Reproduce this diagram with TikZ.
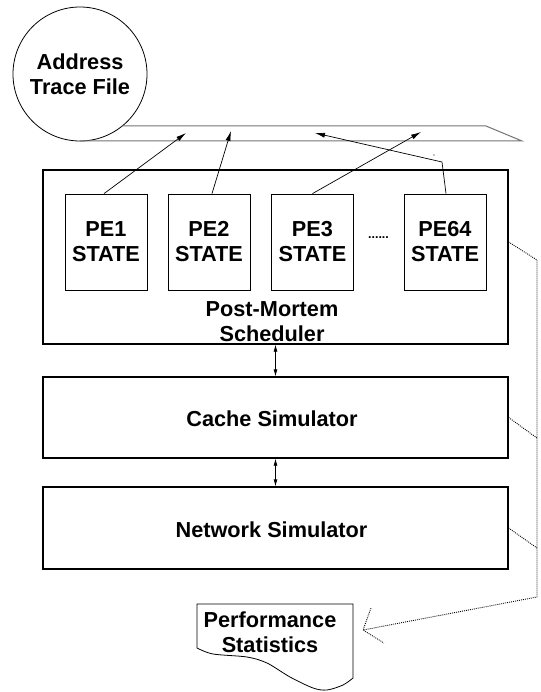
\documentclass[tikz,border=0pt]{standalone}
\usepackage{fontspec}
\setmainfont{Liberation Sans}
\usetikzlibrary{arrows.meta,calc}
\begin{document}
\begin{tikzpicture}[x=1pt,y=-1pt,
  lbl/.style={font=\fontsize{21.7}{25}\selectfont\bfseries, align=center, inner sep=0pt},
  bigbox/.style={draw, line width=1.3pt, inner sep=0pt, minimum width=465pt},
  pebox/.style={draw, line width=0.8pt, minimum width=82pt, minimum height=96pt, inner sep=0pt, lbl},
  arr/.style={line width=0.7pt, -{Latex[length=10pt,width=5pt]}},
  darr/.style={line width=0.8pt, {Latex[length=7pt,width=4pt]}-{Latex[length=7pt,width=4pt]}},
  dots/.style={dash pattern=on 0.9pt off 1.1pt, line width=0.9pt},
  tape/.style={draw=black!55, line width=1pt}]
\useasboundingbox (0,0) rectangle (540,692);

% address trace file
\node[circle, draw, fill=white, line width=0.8pt, minimum size=134pt, inner sep=0pt, lbl] (atf) at (80,74) {Address\\Trace File};
\coordinate (tapeA) at (80,141);
\coordinate (tapeB) at (522,141);
\coordinate (tapeC) at (486,126);
\coordinate (tapeD) at (122.5,126);
\draw[tape] (tapeA) -- (tapeB) -- (tapeC) -- (tapeD);

% scheduler
\node[bigbox, minimum height=174pt] (sched) at (275.5,257) {};
\node[pebox] (pe1) at (106,242) {PE1\\STATE};
\node[pebox] (pe2) at (209,242) {PE2\\STATE};
\node[pebox] (pe3) at (312.5,242) {PE3\\STATE};
\node[pebox] (pe64) at (445,242) {PE64\\STATE};
\node[font=\fontsize{12.5}{14}\selectfont\bfseries, inner sep=0pt, anchor=base] (ellip) at (378.5,239) {......};
\node[lbl] (schedlbl) at (272,322) {Post-Mortem\\Scheduler};

% simulators
\node[bigbox, minimum height=81pt] (cache) at (275.5,417.5) {};
\node[lbl] (cachelbl) at (272,419) {Cache Simulator};
\node[bigbox, minimum height=82pt] (net) at (275.5,528) {};
\node[lbl] (netlbl) at (271.5,530) {Network Simulator};

\draw[darr] (sched.south) -- (cache.north);
\draw[darr] (cache.south) -- (net.north);

% arrows to the trace
\coordinate (t1) at (186,133);
\coordinate (t2) at (231,131);
\coordinate (t3) at (421,132);
\coordinate (t4) at (315,133);
\coordinate (bend) at (442,162);
\draw[arr] ($(pe1.north)+(-2,0)$) -- (t1);
\draw[arr] ($(pe2.north)+(3,0)$) -- (t2);
\draw[arr] (pe3.north) -- (t3);
\draw[arr] ($(pe64.north)+(1,0)$) -- (bend) -- (t4);
\fill (434,155) circle (0.6pt);

% performance statistics
\node[lbl] (perf) at (270,632) {Performance\\Statistics};
\draw[line width=0.8pt] plot[smooth] coordinates {(353,678) (343,685) (327,690) (313,688) (290,677) (267,663) (247,657) (213,654) (197,648)} -- (197,604) -- (353,604) -- (353,678);

% dotted statistics connectors
\coordinate (bus1) at (537,260);
\coordinate (bus2) at (537,438);
\coordinate (bus3) at (537,548);
\coordinate (busend) at (537,597);
\coordinate (tip) at (363,630);
\coordinate (armA) at (371,608);
\coordinate (armB) at (384,643);
\draw[dots] (sched.east |- pe64.center) -- (bus1) -- (busend) -- (tip);
\draw[dots] (cache.east) -- (bus2);
\draw[dots] (net.east) -- (bus3);
\draw[dots] (armA) -- (tip) -- (armB);
\end{tikzpicture}
\end{document}
